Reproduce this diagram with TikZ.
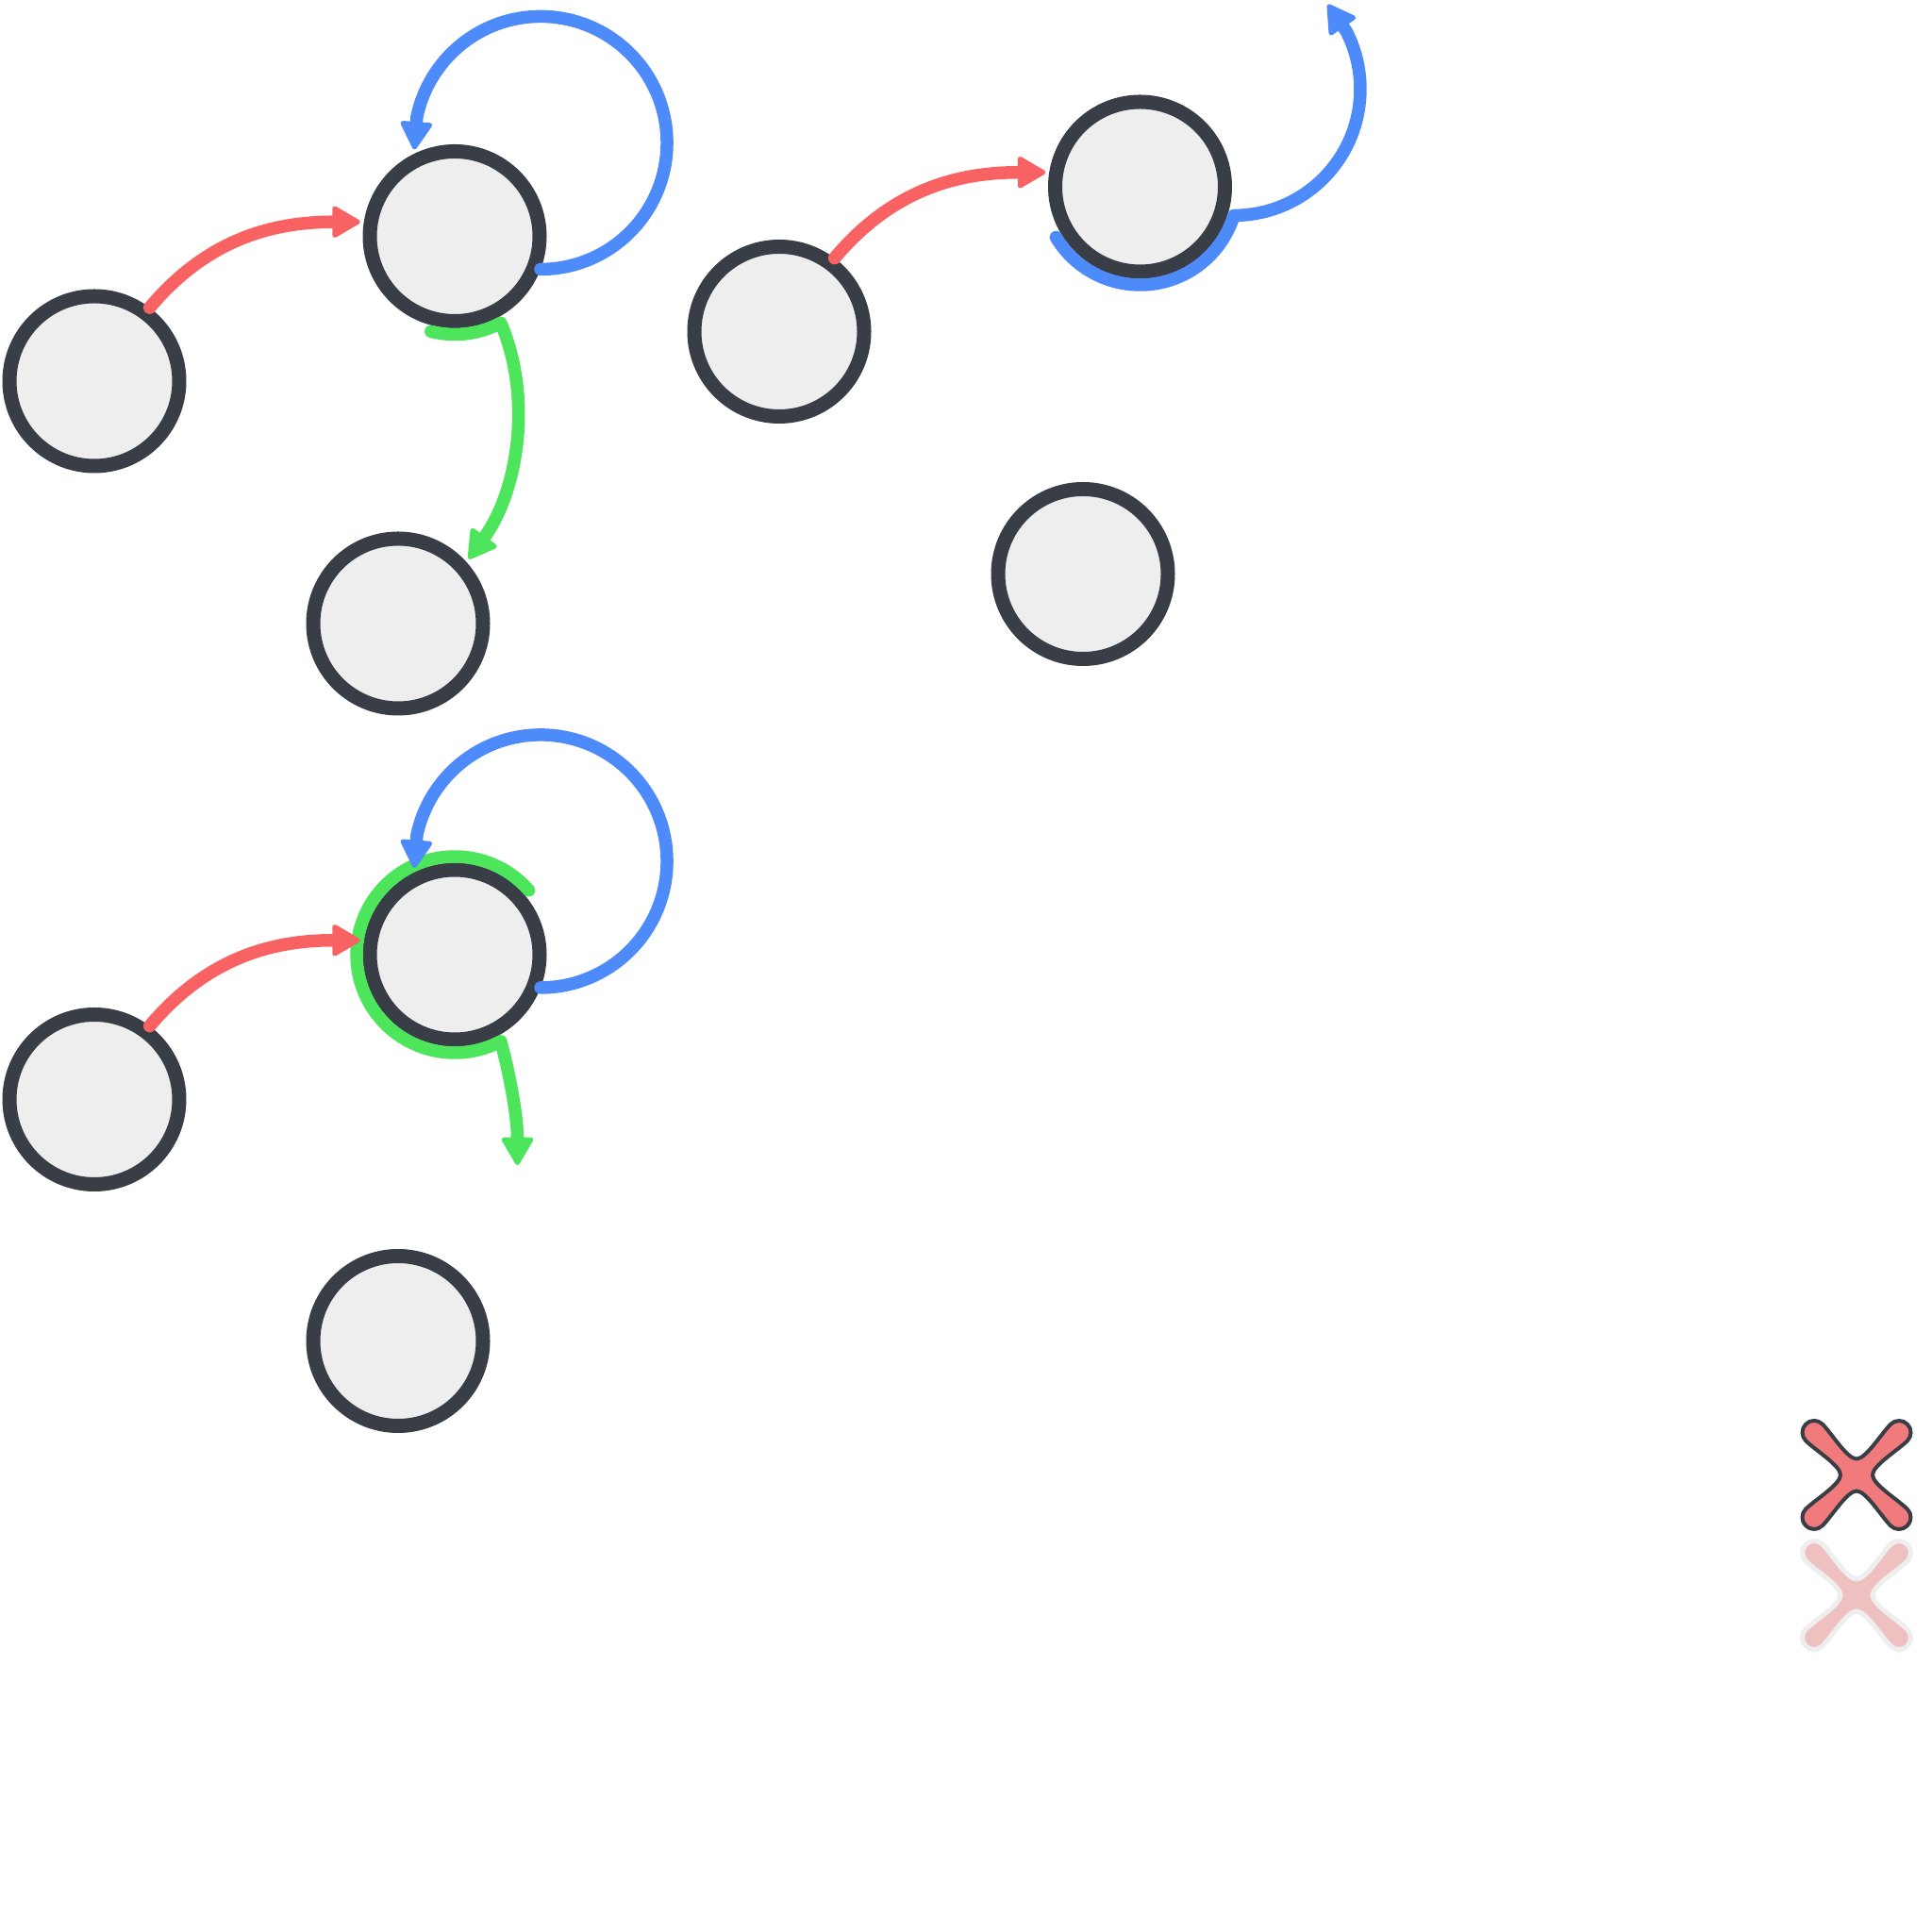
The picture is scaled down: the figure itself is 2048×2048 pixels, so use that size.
\documentclass[tikz,border=0pt]{standalone}
\usetikzlibrary{arrows.meta,calc}
\definecolor{nodefill}{HTML}{EEEEEE}
\definecolor{nodestroke}{HTML}{393D46}
\definecolor{cred}{HTML}{F96262}
\definecolor{cblue}{HTML}{4D8AFA}
\definecolor{cgreen}{HTML}{4DE55C}
\definecolor{xfilla}{HTML}{F07A7C}
\definecolor{xfillb}{HTML}{EEC0C0}
\definecolor{xstrokeb}{HTML}{EEEEEE}
\newcommand\myxpath{(0,17) .. controls (10,17) and (26.2,43.8) .. (36.2,53.8)
  arc[start angle=135,end angle=-45,radius=12.5pt]
  .. controls (43.8,26.2) and (17,10) .. (17,0)
  .. controls (17,-10) and (43.8,-26.2) .. (53.8,-36.2)
  arc[start angle=45,end angle=-135,radius=12.5pt]
  .. controls (26.2,-43.8) and (10,-17) .. (0,-17)
  .. controls (-10,-17) and (-26.2,-43.8) .. (-36.2,-53.8)
  arc[start angle=-45,end angle=-225,radius=12.5pt]
  .. controls (-43.8,-26.2) and (-17,-10) .. (-17,0)
  .. controls (-17,10) and (-43.8,26.2) .. (-53.8,36.2)
  arc[start angle=-135,end angle=-315,radius=12.5pt]
  .. controls (-26.2,43.8) and (-10,17) .. (0,17) -- cycle}
\begin{document}
\begin{tikzpicture}[x=1pt,y=1pt,
  state/.style={circle, draw=nodestroke, fill=nodefill, line width=15pt, minimum size=180pt, inner sep=0pt},
  edge/.style={line width=13.5pt, line cap=round, line join=round},
  tip/.style={-{Triangle[length=32pt,width=36pt,round,line width=5pt]}},
  gap/.style={shorten >=4pt},
  xmarka/.style={fill=xfilla, draw=nodestroke, line width=4pt, line join=round},
  xmarkb/.style={fill=xfillb, draw=xstrokeb, line width=5pt, line join=round}]
\fill[white] (0,0) rectangle (2048,2048);
\useasboundingbox (0,0) rectangle (2048,2048);

\node[state] (A) at (100,1644) {};
\node[state] (B) at (482,1797.5) {};
\node[state] (C) at (422,1387) {};
\node[state] (D) at (826,1696.5) {};
\node[state] (E) at (1208.5,1850) {};
\node[state] (F) at (1148,1439.5) {};
\node[state] (G) at (100,882.5) {};
\node[state] (H) at (482,1036) {};
\node[state] (I) at (422,626.5) {};
\coordinate (hEnd) at (548.5,813);

% green
\draw[edge, cgreen, tip, gap] ($(B.center)+(256:104pt)$) arc[start angle=256,end angle=298,radius=104pt] to[out=-67,in=54,looseness=0.9] (C.42);
\draw[edge, cgreen, tip] ($(H.center)+(41:104pt)$) arc[start angle=41,end angle=298,radius=104pt] to[out=-75,in=90,looseness=0.9] (hEnd);

% red
\draw[edge, cred, tip, gap] (A.53) to[out=50,in=180] (B.171);
\draw[edge, cred, tip, gap] (D.53) to[out=50,in=180] (E.171);
\draw[edge, cred, tip, gap] (G.53) to[out=50,in=180] (H.171);

% blue
\draw[edge, cblue, tip] (B.-21) arc[start angle=-90,end angle=168,radius=134pt] -- ++(-2.7,-34.9);
\draw[edge, cblue, tip] (H.-21) arc[start angle=-90,end angle=168,radius=134pt] -- ++(-2.7,-34.9);
\draw[edge, cblue, tip] ($(E.center)+(211:104pt)$) arc[start angle=211,end angle=343,radius=104pt]
  arc[start angle=-90,end angle=27,radius=134pt] -- ++(-19.8,28.8);

% x marks
\begin{scope}[shift={(1968,484.5)}]
\draw[xmarka] \myxpath;
\end{scope}
\begin{scope}[shift={(1968,357)}]
\draw[xmarkb] \myxpath;
\end{scope}
\end{tikzpicture}
\end{document}
